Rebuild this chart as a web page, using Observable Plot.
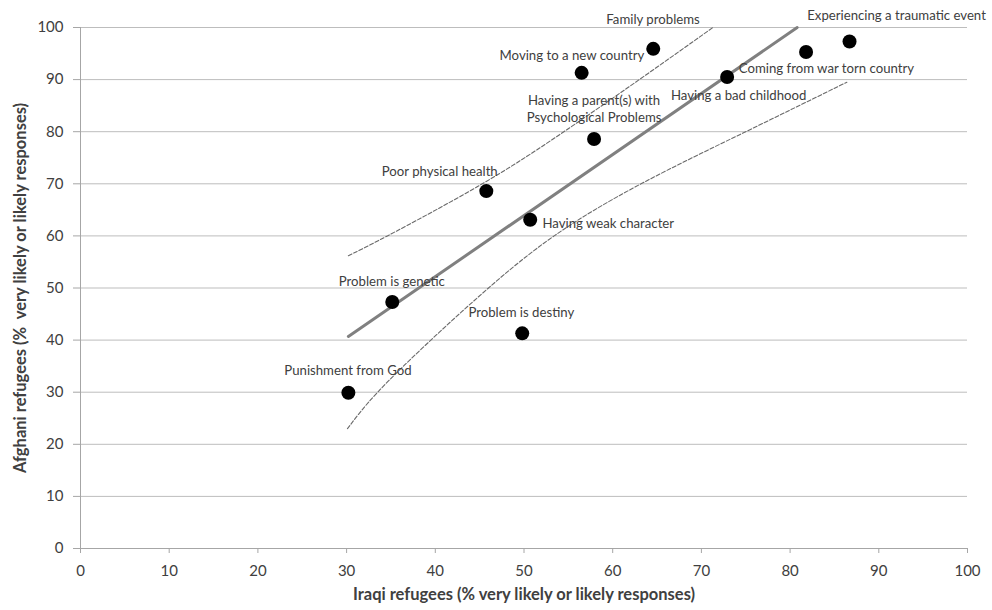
<!DOCTYPE html>
<html>
<head>
<meta charset="utf-8">
<script src="https://cdn.jsdelivr.net/npm/d3@7"></script>
<script src="https://cdn.jsdelivr.net/npm/@observablehq/plot@0.6"></script>
<style>
  html, body { margin: 0; padding: 0; background: #fff; }
  #chart svg { display: block; }
</style>
</head>
<body>
<div id="chart"></div>
<script>
// Points (Iraqi % on x, Afghani % on y)
const iraqi   = [30.2, 35.15, 49.8, 45.75, 50.7, 57.9, 56.5, 64.57, 72.9, 81.8, 86.7];
const afghani = [29.9, 47.3, 41.3, 68.6, 63.1, 78.6, 91.3, 95.9, 90.5, 95.3, 97.3];

// Label texts and their centre positions (data units)
const labelText = [
  "Punishment from God", "Problem is genetic", "Problem is destiny",
  "Poor physical health", "Having weak character", "Having a parent(s) with",
  "Psychological Problems", "Moving to a new country", "Family problems",
  "Coming from war torn country", "Having a bad childhood", "Experiencing a traumatic event"
];
const labelX = [30.15, 35.1, 49.7, 40.5, 59.5, 57.9, 57.9, 55.4, 64.55, 84.1, 74.2, 92.0];
const labelY = [34.2, 51.25, 45.3, 72.4, 62.4, 86.0, 82.7, 94.6, 101.5, 92.1, 86.9, 102.3];

// Regression line
const fitX = [30.2, 80.8];
const fitY = [40.7, 100];

// Dashed confidence curves
const upperX = [30.2, 34.6, 45.3, 54.5, 63.0, 71.3];
const upperY = [56.2, 60, 70, 80, 90, 100];
const lowerX = [30.1, 33.5, 39.5, 46.0, 53.4, 63.2, 75.0, 86.4];
const lowerY = [23.0, 30, 40, 50, 60, 70, 80, 89.5];

const xTicks = [0, 10, 20, 30, 40, 50, 60, 70, 80, 90, 100];
const yTicks = [0, 10, 20, 30, 40, 50, 60, 70, 80, 90, 100];

const xTitle = "Iraqi refugees (% very likely or likely responses)";
const yTitle = "Afghani refugees (%\u00a0 very likely or likely responses)";

const points = iraqi.map((x, i) => ({x, y: afghani[i]}));
const labels = labelText.map((t, i) => ({t, x: labelX[i], y: labelY[i]}));
const fit = fitX.map((x, i) => ({x, y: fitY[i]}));
const upper = upperX.map((x, i) => ({x, y: upperY[i]}));
const lower = lowerX.map((x, i) => ({x, y: lowerY[i]}));

const FONT = "Lato, 'Liberation Sans', sans-serif";
const axisColor = "#a6a6a6";

const chart = Plot.plot({
  width: 992,
  height: 610,
  marginLeft: 80,
  marginRight: 25,
  marginTop: 27,
  marginBottom: 62,
  style: {fontFamily: FONT, background: "#fff", color: "#404040", overflow: "visible"},
  x: {domain: [0, 100], label: null},
  y: {domain: [0, 100], label: null},
  marks: [
    Plot.gridY(yTicks.filter(d => d > 0), {stroke: "#bdbdbd", strokeOpacity: 1, strokeWidth: 1}),
    Plot.ruleY([0], {stroke: axisColor, strokeWidth: 1}),
    Plot.ruleX([0], {stroke: axisColor, strokeWidth: 1}),
    Plot.axisX({ticks: xTicks, tickSize: 5, tickPadding: 12, fontSize: 15, stroke: axisColor, strokeOpacity: 1, color: "#404040", label: null}),
    Plot.axisY({ticks: yTicks, tickSize: 7, tickPadding: 10, fontSize: 15, stroke: axisColor, strokeOpacity: 1, color: "#404040", label: null}),
    Plot.line(upper, {x: "x", y: "y", curve: "natural", stroke: "#6a6a6a", strokeWidth: 1.1, strokeDasharray: "4,2"}),
    Plot.line(lower, {x: "x", y: "y", curve: "natural", stroke: "#6a6a6a", strokeWidth: 1.1, strokeDasharray: "4,2"}),
    Plot.line(fit, {x: "x", y: "y", stroke: "#808080", strokeWidth: 3}),
    Plot.dot(points, {x: "x", y: "y", r: 7, fill: "#000", stroke: "none"}),
    Plot.text(labels, {x: "x", y: "y", text: "t", fontSize: 13.2, fill: "#404040", textAnchor: "middle"}),
    Plot.text([xTitle], {frameAnchor: "bottom", textAnchor: "middle", dy: 51, fontSize: 16.5, fontWeight: "bold", fill: "#404040"}),
    Plot.text([yTitle], {frameAnchor: "left", textAnchor: "middle", dx: -60, rotate: -90, fontSize: 16.5, fontWeight: "bold", fill: "#404040"})
  ]
});

document.getElementById("chart").appendChild(chart);
</script>
</body>
</html>
